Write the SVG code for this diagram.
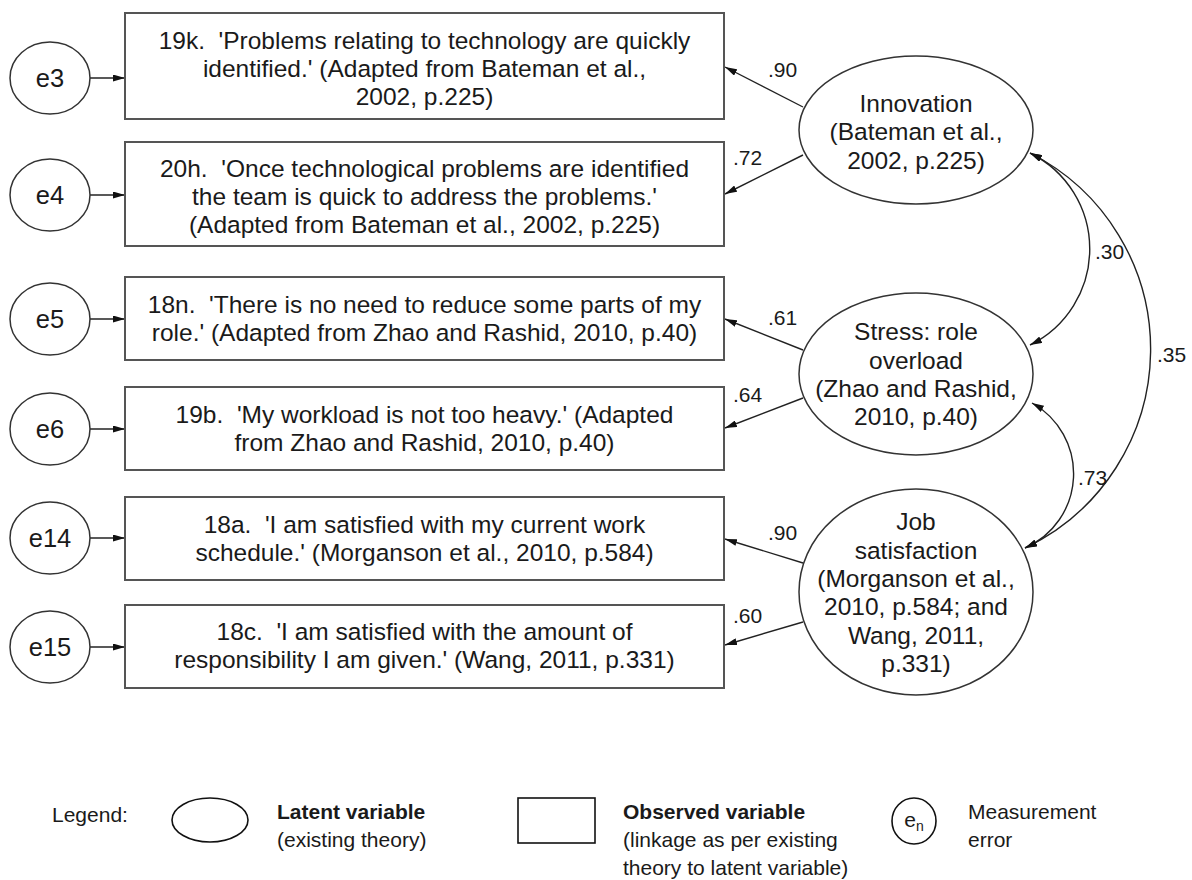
<svg xmlns="http://www.w3.org/2000/svg" width="1192" height="880" viewBox="0 0 1192 880">
<style>
text{font-family:"Liberation Sans",Arial,sans-serif;fill:#1a1a1a}
.bt{font-size:24.5px;text-anchor:middle}
.et{font-size:25.5px;text-anchor:middle}
.lb{font-size:21px}
.lg{font-size:21px}
.b{font-weight:bold}
.box{fill:#fff;stroke:#555;stroke-width:2}
.ell{fill:#fff;stroke:#333;stroke-width:1.5}
.lgs{fill:#fff;stroke:#111;stroke-width:1.6}
.ln{fill:none;stroke:#222;stroke-width:1.4}
</style>
<defs>
<marker id="ah" viewBox="0 0 12 7" refX="12" refY="3.5" markerWidth="12" markerHeight="7" markerUnits="userSpaceOnUse" orient="auto-start-reverse">
<path d="M0,0 L12,3.5 L0,7 z" fill="#111"/>
</marker>
</defs>

<g id="connectors">
<line class="ln" x1="90" y1="78" x2="125" y2="78" marker-end="url(#ah)"/>
<line class="ln" x1="90" y1="195" x2="125" y2="195" marker-end="url(#ah)"/>
<line class="ln" x1="90" y1="319" x2="125" y2="319" marker-end="url(#ah)"/>
<line class="ln" x1="90" y1="429" x2="125" y2="429" marker-end="url(#ah)"/>
<line class="ln" x1="90" y1="538" x2="125" y2="538" marker-end="url(#ah)"/>
<line class="ln" x1="90" y1="647" x2="125" y2="647" marker-end="url(#ah)"/>
<line class="ln" x1="803" y1="107" x2="725" y2="67" marker-end="url(#ah)"/>
<line class="ln" x1="803" y1="155" x2="725" y2="194" marker-end="url(#ah)"/>
<line class="ln" x1="803" y1="350" x2="725" y2="319" marker-end="url(#ah)"/>
<line class="ln" x1="803" y1="398" x2="725" y2="428" marker-end="url(#ah)"/>
<line class="ln" x1="803" y1="563" x2="725" y2="539" marker-end="url(#ah)"/>
<line class="ln" x1="803" y1="622" x2="725" y2="645" marker-end="url(#ah)"/>
<path class="ln" d="M1030,345 A107,107 0 0 0 1030,153" marker-start="url(#ah)" marker-end="url(#ah)"/>
<path class="ln" d="M1025,548 A220,220 0 0 0 1030,153" marker-start="url(#ah)" marker-end="url(#ah)"/>
<path class="ln" d="M1025,548 A81,81 0 0 0 1032,403" marker-start="url(#ah)" marker-end="url(#ah)"/>
<text class="lb" x="768" y="77">.90</text>
<text class="lb" x="733" y="165">.72</text>
<text class="lb" x="768" y="325">.61</text>
<text class="lb" x="733" y="402">.64</text>
<text class="lb" x="768" y="540">.90</text>
<text class="lb" x="733" y="623">.60</text>
<text class="lb" x="1095" y="259">.30</text>
<text class="lb" x="1157" y="362">.35</text>
<text class="lb" x="1078" y="485">.73</text>
</g>

<g id="e3"><ellipse class="ell" cx="50" cy="78" rx="40" ry="36"/><text class="et" x="50" y="87">e3</text></g>
<g id="e4"><ellipse class="ell" cx="50" cy="195" rx="40" ry="36"/><text class="et" x="50" y="204">e4</text></g>
<g id="e5"><ellipse class="ell" cx="50" cy="319" rx="40" ry="36"/><text class="et" x="50" y="328">e5</text></g>
<g id="e6"><ellipse class="ell" cx="50" cy="429" rx="40" ry="36"/><text class="et" x="50" y="438">e6</text></g>
<g id="e14"><ellipse class="ell" cx="50" cy="538" rx="40" ry="36"/><text class="et" x="50" y="547">e14</text></g>
<g id="e15"><ellipse class="ell" cx="50" cy="647" rx="40" ry="36"/><text class="et" x="50" y="656">e15</text></g>

<g id="item19k"><rect class="box" x="125" y="13" width="599" height="106"/>
<text class="bt" x="424.5" y="49">19k.&#160; 'Problems relating to technology are quickly</text>
<text class="bt" x="424.5" y="77">identified.' (Adapted from Bateman et al.,</text>
<text class="bt" x="424.5" y="105">2002, p.225)</text></g>
<g id="item20h"><rect class="box" x="125" y="142" width="599" height="104"/>
<text class="bt" x="424.5" y="177">20h.&#160; 'Once technological problems are identified</text>
<text class="bt" x="424.5" y="205">the team is quick to address the problems.'</text>
<text class="bt" x="424.5" y="233">(Adapted from Bateman et al., 2002, p.225)</text></g>
<g id="item18n"><rect class="box" x="125" y="277" width="599" height="83"/>
<text class="bt" x="424.5" y="313">18n.&#160; 'There is no need to reduce some parts of my</text>
<text class="bt" x="424.5" y="341">role.' (Adapted from Zhao and Rashid, 2010, p.40)</text></g>
<g id="item19b"><rect class="box" x="125" y="387" width="599" height="83"/>
<text class="bt" x="424.5" y="423">19b.&#160; 'My workload is not too heavy.' (Adapted</text>
<text class="bt" x="424.5" y="451">from Zhao and Rashid, 2010, p.40)</text></g>
<g id="item18a"><rect class="box" x="125" y="497" width="599" height="83"/>
<text class="bt" x="424.5" y="533">18a.&#160; 'I am satisfied with my current work</text>
<text class="bt" x="424.5" y="561">schedule.' (Morganson et al., 2010, p.584)</text></g>
<g id="item18c"><rect class="box" x="125" y="605" width="599" height="83"/>
<text class="bt" x="424.5" y="640">18c.&#160; 'I am satisfied with the amount of</text>
<text class="bt" x="424.5" y="668">responsibility I am given.' (Wang, 2011, p.331)</text></g>

<g id="innovation"><ellipse class="ell" cx="916" cy="130" rx="117" ry="74"/>
<text class="bt" x="916" y="111.5">Innovation</text>
<text class="bt" x="916" y="140">(Bateman et al.,</text>
<text class="bt" x="916" y="168.5">2002, p.225)</text></g>
<g id="stress"><ellipse class="ell" cx="916" cy="374" rx="117" ry="81"/>
<text class="bt" x="916" y="340">Stress: role</text>
<text class="bt" x="916" y="368.5">overload</text>
<text class="bt" x="916" y="397">(Zhao and Rashid,</text>
<text class="bt" x="916" y="425">2010, p.40)</text></g>
<g id="job"><ellipse class="ell" cx="916" cy="592" rx="117" ry="103"/>
<text class="bt" x="916" y="530">Job</text>
<text class="bt" x="916" y="558.5">satisfaction</text>
<text class="bt" x="916" y="587">(Morganson et al.,</text>
<text class="bt" x="916" y="615">2010, p.584; and</text>
<text class="bt" x="916" y="643.5">Wang, 2011,</text>
<text class="bt" x="916" y="672">p.331)</text></g>

<g id="legend">
<text class="lg" x="52" y="822">Legend:</text>
<ellipse class="lgs" cx="210" cy="820" rx="38" ry="22"/>
<text class="lg b" x="277" y="819">Latent variable</text>
<text class="lg" x="277" y="847">(existing theory)</text>
<rect class="lgs" x="518" y="798" width="77" height="45"/>
<text class="lg b" x="623" y="819">Observed variable</text>
<text class="lg" x="623" y="847">(linkage as per existing</text>
<text class="lg" x="623" y="875">theory to latent variable)</text>
<ellipse class="lgs" cx="914" cy="821" rx="22" ry="23"/>
<text class="lg" x="914" y="827" text-anchor="middle">e<tspan font-size="14" dy="4">n</tspan></text>
<text class="lg" x="968" y="819">Measurement</text>
<text class="lg" x="968" y="847">error</text>
</g>
</svg>
